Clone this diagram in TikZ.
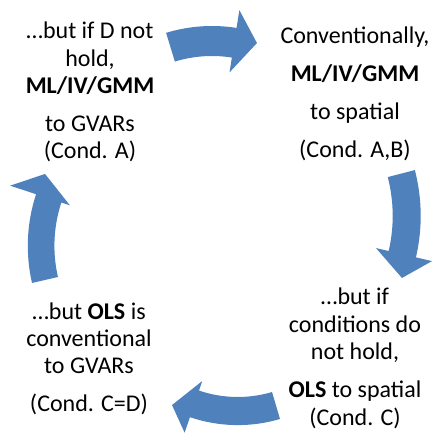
\documentclass[tikz,border=0pt]{standalone}
\usepackage{fontspec}
\setmainfont{Carlito}
\definecolor{arrowblue}{HTML}{4F81BD}
\tikzset{
  arrowfill/.style={fill=arrowblue},
  txt/.style={align=center, font=\fontsize{24}{27.3}\selectfont, inner sep=0pt, anchor=base}
}
\begin{document}
\begin{tikzpicture}[x=1pt,y=1pt]
  \fill[white] (0,0) rectangle (432,434);
  \useasboundingbox (0,0) rectangle (432,434);
  % top arrow
  \fill[arrowfill] ([shift={(212,251)}]107:157pt) arc[start angle=107, end angle=81, radius=157pt]
    -- ([shift={(212,251)}]81:175pt) -- ([shift={(212,251)}]72.2:147pt) -- ([shift={(212,251)}]81:112pt)
    -- ([shift={(212,251)}]81:127pt) arc[start angle=81, end angle=107, radius=127pt] -- cycle;
  % right arrow
  \fill[arrowfill] ([shift={(237.7,218.1)}]14.5:183pt) arc[start angle=14.5, end angle=-13.1, radius=183pt]
    -- ([shift={(237.7,218.1)}]-13.1:199.5pt) -- ([shift={(237.7,218.1)}]-20.7:175.6pt) -- ([shift={(237.7,218.1)}]-13.1:142pt)
    -- ([shift={(237.7,218.1)}]-13.1:155pt) arc[start angle=-13.1, end angle=14.5, radius=155pt] -- cycle;
  % bottom arrow
  \fill[arrowfill] ([shift={(237.8,157.5)}]-73.5:148.6pt) arc[start angle=-73.5, end angle=-108.8, radius=148.6pt]
    -- ([shift={(237.8,157.5)}]-108.8:165pt) -- ([shift={(237.8,157.5)}]-117.1:144.4pt) -- ([shift={(237.8,157.5)}]-108.8:110.5pt)
    -- ([shift={(237.8,157.5)}]-108.8:120.5pt) arc[start angle=-108.8, end angle=-73.5, radius=120.5pt] -- cycle;
  % left arrow
  \fill[arrowfill] ([shift={(193,188.2)}]193:165.2pt) arc[start angle=193, end angle=161.8, radius=165.2pt]
    -- ([shift={(193,188.2)}]161.8:192.5pt) -- ([shift={(193,188.2)}]154.1:164.5pt) -- ([shift={(193,188.2)}]161.8:129.6pt)
    -- ([shift={(193,188.2)}]161.8:138.6pt) arc[start angle=161.8, end angle=193, radius=138.6pt] -- cycle;
  % texts (anchor = baseline of last line)
  \node[txt] (tl) at (90,275) {…but if D not\\hold,\\\textbf{ML/IV/GMM}\\[11pt]to GVARs\\(Cond. A)};
  \node[txt] (tr) at (355,276) {Conventionally,\\[11pt]\textbf{ML/IV/GMM}\\[11pt]to spatial\\[11pt](Cond. A,B)};
  \node[txt] (bl) at (89,22) {…but \textbf{OLS} is\\conventional\\to GVARs\\[11pt](Cond. C=D)};
  \node[txt] (br) at (355,9) {…but if\\conditions do\\not hold,\\[11pt]\textbf{OLS} to spatial\\(Cond. C)};
\end{tikzpicture}
\end{document}
